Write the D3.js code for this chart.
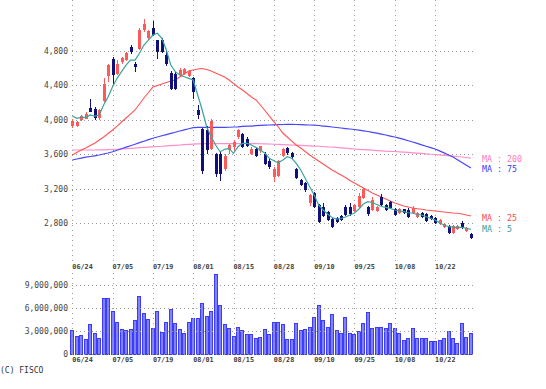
<!DOCTYPE html>
<html><head><meta charset="utf-8">
<script src="https://cdn.jsdelivr.net/npm/d3@7"></script>
<style>body{margin:0;background:#fff}svg{display:block}</style>
</head><body>
<svg id="c" width="546" height="389"></svg>
<script>
const dateLabels = ["06/24","07/05","07/19","08/01","08/15","08/28","09/10","09/25","10/08","10/22"];
const dateIdx = [0,9,18,27,36,45,54,63,72,81];
const priceTicks = [2800,3200,3600,4000,4400,4800];
const volTicks = [0,3000000,6000000,9000000];

const open = [3925,3930,3995,4010,4135,4120,4015,4220,4505,4700,4530,4665,4690,4845,4650,4815,5040,4945,5060,4925,4925,4750,4545,4535,4515,4530,4510,4480,4110,3895,3880,3660,3605,3600,3430,3650,3680,3800,3835,3780,3605,3660,3635,3605,3525,3335,3350,3585,3675,3610,3430,3300,3265,3035,3150,3010,2990,2930,2850,2860,2885,2990,2990,2940,2990,3095,2985,2955,2945,3105,3010,3045,2965,2920,2965,2955,2920,2875,2920,2905,2885,2860,2790,2755,2770,2690,2735,2800,2710,2675];
const high = [4005,3985,4050,4085,4235,4145,4125,4480,4650,4730,4690,4730,4790,4865,4670,5060,5165,5040,5150,4930,4945,4805,4565,4550,4605,4595,4580,4500,4170,3905,3930,4010,3610,3625,3600,3720,3760,3895,3845,3795,3680,3675,3700,3625,3545,3450,3535,3675,3680,3625,3445,3310,3280,3140,3160,3020,3040,2945,2860,2875,2900,3010,3035,3020,3150,3210,3000,3110,3000,3140,3025,3055,2975,2975,2970,2975,2995,2935,2930,2915,2895,2870,2845,2800,2780,2785,2785,2830,2755,2690];
const low = [3900,3915,3985,4005,4085,3995,4000,4205,4440,4410,4515,4650,4680,4760,4555,4810,5020,4930,4970,4700,4770,4620,4345,4345,4505,4520,4500,4245,4010,3370,3600,3650,3335,3295,3410,3605,3640,3780,3675,3680,3595,3565,3620,3470,3430,3275,3340,3565,3595,3550,3315,3230,3160,3000,2975,2800,2870,2825,2740,2800,2830,2880,2890,2930,2980,3080,2880,2940,2935,2995,2940,2960,2885,2910,2905,2865,2910,2860,2865,2810,2840,2790,2780,2745,2680,2680,2725,2735,2700,2615];
const close = [3990,3975,4040,4070,4090,4020,4110,4410,4635,4515,4650,4710,4770,4780,4610,5040,5115,5030,4980,4790,4790,4650,4355,4360,4575,4585,4565,4325,4050,3410,3650,3990,3370,3370,3585,3710,3740,3880,3680,3700,3660,3585,3690,3490,3450,3430,3525,3660,3610,3565,3325,3245,3185,3130,2990,2815,2885,2840,2760,2815,2840,2895,2905,3010,3115,3195,2905,3070,2990,3010,2955,2975,2895,2965,2920,2875,2975,2920,2875,2825,2850,2805,2835,2790,2690,2770,2770,2745,2745,2630];
const volume = [3.16,2.42,2.55,1.95,3.90,2.80,2.16,7.27,7.27,5.62,4.24,3.33,3.16,3.33,4.45,7.57,5.40,4.54,3.37,5.62,2.94,4.15,5.84,4.02,3.24,2.72,4.24,4.67,4.67,6.70,4.97,5.62,10.43,6.40,3.90,3.46,2.38,3.50,3.12,2.59,2.68,2.16,2.25,3.24,2.59,4.24,4.24,3.90,1.95,1.95,4.02,3.16,3.24,3.50,4.80,6.40,4.45,3.59,5.23,3.16,2.81,4.89,2.72,2.63,3.07,4.02,5.45,3.38,3.50,3.59,3.38,4.02,3.46,2.72,1.86,2.16,3.46,2.16,2.08,2.08,1.73,1.73,1.86,2.16,3.07,2.16,1.43,4.02,2.29,2.81].map(v => v * 1e6);
const ma5 = [4043,4017,4028,4028,4055,4043,4055,4171,4267,4383,4480,4557,4634,4692,4692,4770,4866,4924,4982,5002,4944,4808,4634,4557,4518,4499,4480,4460,4287,4113,3919,3803,3707,3629,3657,3669,3611,3687,3727,3727,3707,3680,3649,3611,3553,3525,3502,3533,3571,3553,3495,3417,3321,3224,3128,3012,2954,2907,2867,2849,2855,2873,2896,2919,2965,3023,3050,3041,3017,2994,2985,2973,2954,2946,2934,2922,2916,2904,2896,2876,2858,2838,2807,2780,2760,2753,2753,2753,2742,2730];
const ma25 = [3591,3620,3649,3672,3701,3727,3765,3800,3840,3881,3927,3974,4020,4066,4113,4182,4252,4316,4379,4397,4414,4431,4449,4460,4495,4530,4565,4576,4588,4594,4582,4565,4542,4518,4495,4460,4420,4379,4345,4304,4263,4229,4171,4107,4043,3979,3916,3846,3800,3753,3707,3672,3632,3591,3556,3522,3487,3452,3417,3388,3359,3330,3296,3267,3238,3209,3180,3151,3128,3104,3081,3058,3035,3017,3000,2989,2977,2969,2962,2954,2948,2942,2936,2931,2925,2919,2916,2907,2896,2884];
const ma75 = [3533,3545,3556,3566,3574,3582,3591,3603,3614,3629,3647,3664,3682,3699,3716,3734,3751,3769,3785,3800,3814,3828,3842,3855,3869,3883,3896,3908,3912,3912,3912,3912,3912,3912,3912,3913,3916,3918,3922,3925,3927,3931,3934,3937,3939,3941,3944,3945,3946,3946,3945,3944,3941,3939,3937,3933,3927,3922,3916,3910,3904,3898,3893,3887,3880,3872,3864,3854,3844,3833,3823,3811,3800,3786,3772,3757,3742,3726,3709,3693,3677,3661,3639,3616,3592,3568,3537,3505,3473,3441];
const ma200 = [3649,3649,3649,3649,3649,3649,3650,3651,3653,3655,3658,3662,3665,3669,3672,3676,3679,3683,3686,3690,3693,3697,3700,3704,3707,3711,3714,3718,3720,3722,3724,3724,3724,3724,3724,3724,3724,3724,3724,3724,3724,3723,3722,3721,3719,3716,3714,3712,3709,3707,3705,3702,3700,3698,3695,3693,3690,3686,3684,3679,3675,3670,3665,3661,3657,3654,3650,3647,3643,3640,3636,3634,3632,3628,3625,3621,3617,3613,3609,3605,3600,3597,3592,3588,3583,3578,3574,3568,3562,3556];

const svg = d3.select("#c");
const n = close.length;
const x = d3.scaleLinear().domain([0, n - 1]).range([72.3, 470.9]);
const yP = d3.scaleLinear().domain([2351, 5388]).range([262, 0]);
const yV = d3.scaleLinear().domain([0, 10.5e6]).range([354.3, 273.5]);
const gridColor = "#9a9a9a";
const left = 72, right = 473;
const px = v => Math.round(v) + 0.5;

// price grid
const gp = svg.append("g").attr("shape-rendering","crispEdges");
gp.selectAll("line.h").data(priceTicks).join("line")
  .attr("x1", left).attr("x2", right)
  .attr("y1", d => px(yP(d))).attr("y2", d => px(yP(d)))
  .attr("stroke", gridColor).attr("stroke-dasharray","1,3");
gp.selectAll("line.v").data(dateIdx).join("line")
  .attr("x1", d => px(x(d))).attr("x2", d => px(x(d)))
  .attr("y1", 0).attr("y2", 263)
  .attr("stroke", gridColor).attr("stroke-dasharray","1,4");

// MA lines
function maLine(arr, color, w) {
  svg.append("path").datum(arr)
    .attr("d", d3.line().x((d,i) => x(i)).y(d => yP(d)))
    .attr("fill","none").attr("stroke", color).attr("stroke-width", w);
}
maLine(ma200, "#ff8ccc", 1.2);
maLine(ma75, "#4646ff", 1.2);
maLine(ma25, "#ff5555", 1.1);

// candles
const idx = d3.range(n);
const gc = svg.append("g").attr("shape-rendering","crispEdges");
gc.selectAll("line").data(idx).join("line")
  .attr("x1", i => px(x(i))).attr("x2", i => px(x(i)))
  .attr("y1", i => yP(high[i])).attr("y2", i => yP(low[i]))
  .attr("stroke", i => close[i] >= open[i] ? "#ff5a5a" : "#10107c");
gc.selectAll("rect").data(idx).join("rect")
  .attr("x", i => Math.round(x(i)) - 1).attr("width", 3)
  .attr("y", i => yP(Math.max(open[i], close[i])))
  .attr("height", i => Math.max(1, Math.abs(yP(open[i]) - yP(close[i]))))
  .attr("fill", i => close[i] >= open[i] ? "#ff5a5a" : "#10107c");

maLine(ma5, "#3aa49c", 1.2);

// price axis
const fmt = d3.format(",");
const ax = svg.append("g").attr("transform", `translate(${left},0)`)
  .call(d3.axisLeft(yP).tickValues(priceTicks).tickFormat(fmt).tickSize(0).tickPadding(4));
ax.select(".domain").remove();
ax.selectAll("text").attr("font-family","DejaVu Sans Mono").attr("font-size",8).attr("fill","#444");

// date labels (top)
function dateAxis(yPos) {
  const g = svg.append("g").attr("transform", `translate(0,${yPos})`)
    .call(d3.axisBottom(x).tickValues(dateIdx).tickFormat((d,i) => dateLabels[i]).tickSize(0).tickPadding(2.5));
  g.select(".domain").remove();
  g.selectAll("text").attr("text-anchor","start").attr("x", -0.5)
    .attr("font-family","DejaVu Sans Mono").attr("font-weight","bold")
    .attr("font-size",6.8).attr("fill","#444");
}
dateAxis(262);

// volume bars
svg.append("g").attr("shape-rendering","crispEdges")
  .selectAll("rect").data(idx).join("rect")
  .attr("x", i => Math.round(x(i)) - 1.5).attr("width", 3)
  .attr("y", i => Math.round(yV(volume[i])) + 0.5)
  .attr("height", i => Math.max(0, Math.round(yV(0)) - Math.round(yV(volume[i]))))
  .attr("fill", "#8282ff").attr("stroke", "#3c3cff").attr("stroke-width", 1);

// volume grid on top
const gv = svg.append("g").attr("shape-rendering","crispEdges");
gv.selectAll("line.h").data(volTicks).join("line")
  .attr("x1", left).attr("x2", right)
  .attr("y1", d => px(yV(d))).attr("y2", d => px(yV(d)))
  .attr("stroke", gridColor).attr("stroke-dasharray","1,3");
gv.selectAll("line.v").data(dateIdx).join("line")
  .attr("x1", d => px(x(d))).attr("x2", d => px(x(d)))
  .attr("y1", 273).attr("y2", 355)
  .attr("stroke", gridColor).attr("stroke-dasharray","1,4");

const av = svg.append("g").attr("transform", `translate(${left},0)`)
  .call(d3.axisLeft(yV).tickValues(volTicks).tickFormat(fmt).tickSize(0).tickPadding(4));
av.select(".domain").remove();
av.selectAll("text").attr("font-family","DejaVu Sans Mono").attr("font-size",8).attr("fill","#444");

dateAxis(354.5);

// legend
const legend = [
  {t:"MA : 200", c:"#ff7ab4", y:162.3},
  {t:"MA : 75", c:"#3a3aff", y:172.3},
  {t:"MA : 25", c:"#ff4a4a", y:220.7},
  {t:"MA : 5", c:"#3a9c96", y:232.3}
];
svg.selectAll("text.lg").data(legend).join("text").attr("class","lg")
  .attr("x", 482).attr("y", d => d.y).text(d => d.t)
  .attr("fill", d => d.c).attr("font-family","DejaVu Sans Mono").attr("font-size",8.3);

svg.append("text").attr("x", 0).attr("y", 373).text("(C) FISCO")
  .attr("font-family","DejaVu Sans Mono").attr("font-size",8).attr("fill","#333");
</script>
</body></html>
